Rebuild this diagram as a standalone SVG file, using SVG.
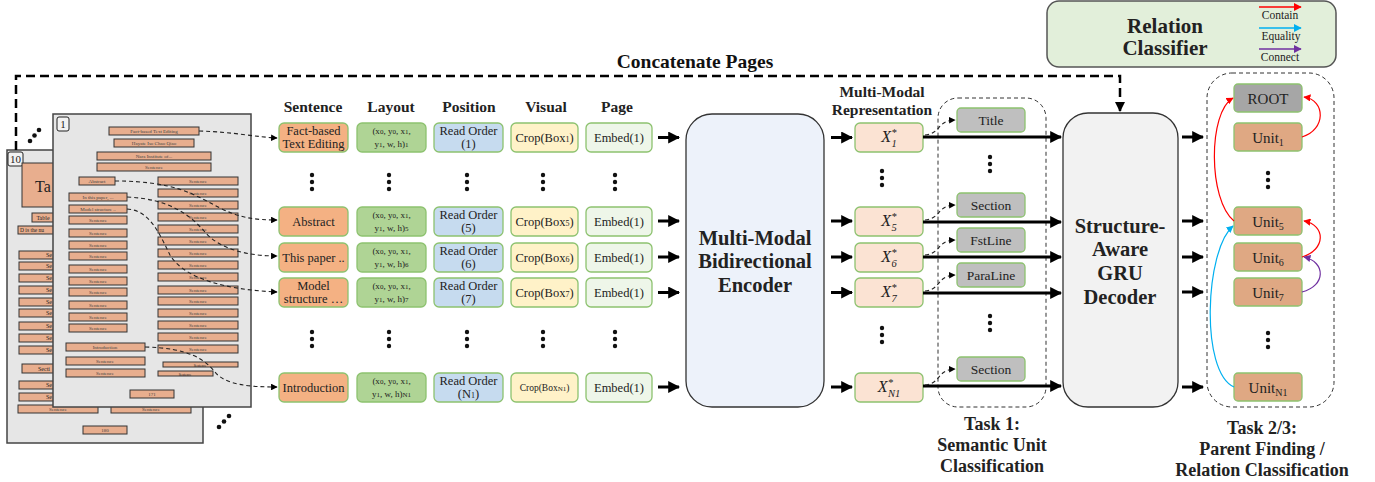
<svg xmlns="http://www.w3.org/2000/svg" width="1375" height="482" viewBox="0 0 1375 482" font-family="'Liberation Serif', serif">
<style>
text{font-family:"Liberation Serif","Times New Roman",serif;fill:#222}
.b{font-weight:bold;fill:#111}
.doc{fill:#e6e6e6;stroke:#444;stroke-width:1.5}
.db{fill:#e8ae8e;stroke:#333;stroke-width:1}
.dt{font-size:5px;text-anchor:middle;fill:#444}
.cell{stroke:#8dc26f;stroke-width:1.3}
.sen{fill:#f4b183}.lay{fill:#afd495}.pos{fill:#c6dbef}.vis{fill:#fff2c8}.pg{fill:#eef6e9}
.xr{fill:#fbe3d3}.cls{fill:#bfbfbf}.unit{fill:#dfa883}.root{fill:#a6a6a6}
.ct{font-size:12.5px;text-anchor:middle}
.cl{font-size:13.5px;text-anchor:middle}
.lt{font-size:9px;text-anchor:middle}
.thick{stroke:#000;stroke-width:3;fill:none;marker-end:url(#ah)}
.dsh{stroke:#222;stroke-width:1.1;fill:none;stroke-dasharray:4 3;marker-end:url(#sa)}
.dot{fill:#111}
</style>
<defs>
<marker id="ah" viewBox="0 0 10 10" refX="9" refY="5" markerWidth="4" markerHeight="4" orient="auto" markerUnits="strokeWidth"><path d="M0,0L10,5L0,10z" fill="#000"/></marker>
<marker id="sa" viewBox="0 0 10 10" refX="9" refY="5" markerWidth="6" markerHeight="6" orient="auto" markerUnits="strokeWidth"><path d="M0,0L10,5L0,10z" fill="#000"/></marker>
<marker id="ba" viewBox="0 0 10 10" refX="9" refY="5" markerWidth="4" markerHeight="4" orient="auto" markerUnits="strokeWidth"><path d="M0,0L10,5L0,10z" fill="#000"/></marker>
<marker id="mr" viewBox="0 0 10 10" refX="9" refY="5" markerWidth="6" markerHeight="6" orient="auto" markerUnits="strokeWidth"><path d="M0,0L10,5L0,10z" fill="#ff0000"/></marker>
<marker id="mb" viewBox="0 0 10 10" refX="9" refY="5" markerWidth="6" markerHeight="6" orient="auto" markerUnits="strokeWidth"><path d="M0,0L10,5L0,10z" fill="#00b0f0"/></marker>
<marker id="mp" viewBox="0 0 10 10" refX="9" refY="5" markerWidth="6" markerHeight="6" orient="auto" markerUnits="strokeWidth"><path d="M0,0L10,5L0,10z" fill="#7030a0"/></marker>
</defs>

<!-- Pages -->
<g id="page10">
<rect class="doc" x="7" y="150" width="196" height="293"/>
<rect x="8" y="152" width="15" height="14" rx="2" fill="#f2f2f2" stroke="#222"/>
<text x="15.5" y="163" font-size="11" text-anchor="middle">10</text>
<rect class="db" x="22" y="163" width="60" height="44"/>
<text x="43" y="192" font-size="16" text-anchor="middle">Ta</text>
<rect class="db" x="32" y="213" width="50" height="9"/>
<text x="43" y="220" font-size="6" text-anchor="middle" fill="#444">Table</text>
<rect class="db" x="18" y="226" width="60" height="8"/>
<text x="20" y="232" font-size="5.5" fill="#444">D is the nu</text>
<g>
<rect class="db" x="19" y="251" width="60" height="8"/><rect class="db" x="19" y="262" width="60" height="8"/>
<rect class="db" x="19" y="274" width="60" height="8"/><rect class="db" x="19" y="286" width="60" height="8"/>
<rect class="db" x="19" y="298" width="60" height="8"/><rect class="db" x="19" y="309" width="60" height="8"/>
<rect class="db" x="19" y="322" width="60" height="8"/><rect class="db" x="19" y="334" width="60" height="8"/>
<rect class="db" x="19" y="346" width="60" height="8"/>
<rect class="db" x="22" y="364" width="60" height="9"/>
<rect class="db" x="19" y="381" width="60" height="8"/><rect class="db" x="19" y="393" width="60" height="8"/>
</g>
<g font-size="6" fill="#444">
<text x="46" y="257">Se</text><text x="46" y="268">Se</text><text x="46" y="280">Se</text><text x="46" y="292">Se</text>
<text x="46" y="304">Se</text><text x="46" y="315">Se</text><text x="46" y="328">Se</text><text x="46" y="340">Se</text>
<text x="46" y="352">Se</text><text x="38" y="371">Secti</text><text x="46" y="387">Se</text><text x="46" y="399">Se</text>
</g>
<rect class="db" x="18" y="405" width="80" height="8"/><text class="dt" x="58" y="411">Sentence</text>
<rect class="db" x="111" y="405" width="80" height="8"/><text class="dt" x="151" y="411">Sentence</text>
<rect class="db" x="83" y="426" width="44" height="8"/><text class="dt" x="105" y="432">180</text>
</g>

<g id="page1">
<rect class="doc" x="53" y="114" width="198" height="293"/>
<rect x="57" y="117" width="12" height="14" rx="2" fill="#f2f2f2" stroke="#222"/>
<text x="63" y="128" font-size="11" text-anchor="middle">1</text>
<rect class="db" x="109" y="127" width="90" height="8"/><text class="dt" x="154" y="133">Fact-based Text Editing</text>
<rect class="db" x="114" y="139" width="80" height="8"/><text class="dt" x="154" y="145">Hayate Iso Chao Qiao</text>
<rect class="db" x="97" y="152" width="114" height="8"/><text class="dt" x="154" y="158">Nara Institute of...</text>
<rect class="db" x="97" y="163" width="114" height="8"/><text class="dt" x="154" y="169">Sentence</text>
<rect class="db" x="79" y="177" width="36" height="8"/><text class="dt" x="97" y="183">Abstract</text>
<rect class="db" x="69" y="193" width="58" height="8"/><text class="dt" x="98" y="199">In this paper, ...</text>
<rect class="db" x="69" y="205" width="58" height="8"/><text class="dt" x="98" y="211">Model structure ..</text>
<g>
<rect class="db" x="69" y="216" width="58" height="8"/><text class="dt" x="98" y="222">Sentence</text>
<rect class="db" x="69" y="229" width="58" height="8"/><text class="dt" x="98" y="235">Sentence</text>
<rect class="db" x="69" y="241" width="58" height="8"/><text class="dt" x="98" y="247">Sentence</text>
<rect class="db" x="69" y="252" width="58" height="8"/><text class="dt" x="98" y="258">Sentence</text>
<rect class="db" x="69" y="265" width="58" height="8"/><text class="dt" x="98" y="271">Sentence</text>
<rect class="db" x="69" y="277" width="58" height="8"/><text class="dt" x="98" y="283">Sentence</text>
<rect class="db" x="69" y="288" width="58" height="8"/><text class="dt" x="98" y="294">Sentence</text>
<rect class="db" x="69" y="301" width="58" height="8"/><text class="dt" x="98" y="307">Sentence</text>
<rect class="db" x="69" y="313" width="58" height="8"/><text class="dt" x="98" y="319">Sentence</text>
<rect class="db" x="69" y="324" width="58" height="8"/><text class="dt" x="98" y="330">Sentence</text>
</g>
<rect class="db" x="66" y="343" width="79" height="8"/><text class="dt" x="105" y="349">Introduction</text>
<rect class="db" x="66" y="357" width="79" height="8"/><text class="dt" x="105" y="363">Sentence</text>
<rect class="db" x="66" y="369" width="79" height="8"/><text class="dt" x="105" y="375">Sentence</text>
<rect class="db" x="130" y="390" width="44" height="8"/><text class="dt" x="152" y="396">171</text>
<g>
<rect class="db" x="158" y="177" width="80" height="8"/><text class="dt" x="198" y="183">Sentence</text>
<rect class="db" x="158" y="189" width="80" height="8"/><text class="dt" x="198" y="195">Sentence</text>
<rect class="db" x="158" y="201" width="80" height="8"/><text class="dt" x="198" y="207">Sentence</text>
<rect class="db" x="158" y="213" width="80" height="8"/><text class="dt" x="198" y="219">Sentence</text>
<rect class="db" x="158" y="225" width="80" height="8"/><text class="dt" x="198" y="231">Sentence</text>
<rect class="db" x="158" y="237" width="80" height="8"/><text class="dt" x="198" y="243">Sentence</text>
<rect class="db" x="158" y="249" width="80" height="8"/><text class="dt" x="198" y="255">Sentence</text>
<rect class="db" x="158" y="261" width="80" height="8"/><text class="dt" x="198" y="267">Sentence</text>
<rect class="db" x="158" y="273" width="80" height="8"/><text class="dt" x="198" y="279">Sentence</text>
<rect class="db" x="158" y="286" width="80" height="8"/><text class="dt" x="198" y="292">Sentence</text>
<rect class="db" x="158" y="297" width="80" height="8"/><text class="dt" x="198" y="303">Sentence</text>
<rect class="db" x="158" y="309" width="80" height="8"/><text class="dt" x="198" y="315">Sentence</text>
<rect class="db" x="158" y="321" width="80" height="8"/><text class="dt" x="198" y="327">Sentence</text>
<rect class="db" x="158" y="333" width="80" height="8"/><text class="dt" x="198" y="339">Sentence</text>
<rect class="db" x="158" y="345" width="80" height="8"/><text class="dt" x="198" y="351">Sentence</text>
<rect class="db" x="163" y="362" width="75" height="5"/><text x="200" y="366.5" font-size="3.5" text-anchor="middle" fill="#444">Sentence</text>
<rect class="db" x="158" y="371" width="55" height="5"/><text x="185" y="375.5" font-size="3.5" text-anchor="middle" fill="#444">Sentence</text>
</g>
</g>

<g id="page-dots">
<circle class="dot" cx="30" cy="141" r="2.3"/><circle class="dot" cx="34.5" cy="135.5" r="2.3"/><circle class="dot" cx="39" cy="130" r="2.3"/>
<circle class="dot" cx="219" cy="427" r="2.3"/><circle class="dot" cx="224" cy="421.5" r="2.3"/><circle class="dot" cx="229" cy="416" r="2.3"/>
</g>

<!-- Title labels -->
<text class="b" x="695" y="68" font-size="19.5" text-anchor="middle">Concatenate Pages</text>
<g class="b" font-size="15.5" text-anchor="middle">
<text x="313" y="112">Sentence</text><text x="391" y="112">Layout</text><text x="469" y="112">Position</text>
<text x="546" y="112">Visual</text><text x="617" y="112">Page</text>
</g>
<g class="b" font-size="15.5" text-anchor="middle">
<text x="882" y="97">Multi-Modal</text><text x="882" y="115">Representation</text>
</g>

<!-- Input rows -->
<g id="row1">
<rect class="cell sen" x="279" y="123" width="69" height="29" rx="5"/>
<text class="ct" x="313.5" y="135">Fact-based</text><text class="ct" x="313.5" y="148">Text Editing</text>
<rect class="cell lay" x="357" y="123" width="69" height="29" rx="5"/>
<text class="lt" x="391.5" y="134">(x<tspan font-size="7">0</tspan>, y<tspan font-size="7">0</tspan>, x<tspan font-size="7">1</tspan>,</text>
<text class="lt" x="391.5" y="147">y<tspan font-size="7">1</tspan>, w, h)<tspan font-size="7">1</tspan></text>
<rect class="cell pos" x="434" y="123" width="69" height="29" rx="5"/>
<text class="ct" x="468.5" y="135">Read Order</text><text class="ct" x="468.5" y="148">(1)</text>
<rect class="cell vis" x="511" y="123" width="67" height="29" rx="5"/>
<text class="ct" x="544.5" y="142">Crop(Box<tspan font-size="8">1</tspan>)</text>
<rect class="cell pg" x="586" y="123" width="66" height="29" rx="5"/>
<text class="ct" x="619" y="142">Embed(1)</text>
</g>
<g id="row5">
<rect class="cell sen" x="279" y="207" width="69" height="29" rx="5"/>
<text class="ct" x="313.5" y="226">Abstract</text>
<rect class="cell lay" x="357" y="207" width="69" height="29" rx="5"/>
<text class="lt" x="391.5" y="218">(x<tspan font-size="7">0</tspan>, y<tspan font-size="7">0</tspan>, x<tspan font-size="7">1</tspan>,</text>
<text class="lt" x="391.5" y="231">y<tspan font-size="7">1</tspan>, w, h)<tspan font-size="7">5</tspan></text>
<rect class="cell pos" x="434" y="207" width="69" height="29" rx="5"/>
<text class="ct" x="468.5" y="219">Read Order</text><text class="ct" x="468.5" y="232">(5)</text>
<rect class="cell vis" x="511" y="207" width="67" height="29" rx="5"/>
<text class="ct" x="544.5" y="226">Crop(Box<tspan font-size="8">5</tspan>)</text>
<rect class="cell pg" x="586" y="207" width="66" height="29" rx="5"/>
<text class="ct" x="619" y="226">Embed(1)</text>
</g>
<g id="row6">
<rect class="cell sen" x="279" y="243" width="69" height="29" rx="5"/>
<text class="ct" x="313.5" y="262">This paper ..</text>
<rect class="cell lay" x="357" y="243" width="69" height="29" rx="5"/>
<text class="lt" x="391.5" y="254">(x<tspan font-size="7">0</tspan>, y<tspan font-size="7">0</tspan>, x<tspan font-size="7">1</tspan>,</text>
<text class="lt" x="391.5" y="267">y<tspan font-size="7">1</tspan>, w, h)<tspan font-size="7">6</tspan></text>
<rect class="cell pos" x="434" y="243" width="69" height="29" rx="5"/>
<text class="ct" x="468.5" y="255">Read Order</text><text class="ct" x="468.5" y="268">(6)</text>
<rect class="cell vis" x="511" y="243" width="67" height="29" rx="5"/>
<text class="ct" x="544.5" y="262">Crop(Box<tspan font-size="8">6</tspan>)</text>
<rect class="cell pg" x="586" y="243" width="66" height="29" rx="5"/>
<text class="ct" x="619" y="262">Embed(1)</text>
</g>
<g id="row7">
<rect class="cell sen" x="279" y="278" width="69" height="29" rx="5"/>
<text class="ct" x="313.5" y="290">Model</text><text class="ct" x="313.5" y="303">structure …</text>
<rect class="cell lay" x="357" y="278" width="69" height="29" rx="5"/>
<text class="lt" x="391.5" y="289">(x<tspan font-size="7">0</tspan>, y<tspan font-size="7">0</tspan>, x<tspan font-size="7">1</tspan>,</text>
<text class="lt" x="391.5" y="302">y<tspan font-size="7">1</tspan>, w, h)<tspan font-size="7">7</tspan></text>
<rect class="cell pos" x="434" y="278" width="69" height="29" rx="5"/>
<text class="ct" x="468.5" y="290">Read Order</text><text class="ct" x="468.5" y="303">(7)</text>
<rect class="cell vis" x="511" y="278" width="67" height="29" rx="5"/>
<text class="ct" x="544.5" y="297">Crop(Box<tspan font-size="8">7</tspan>)</text>
<rect class="cell pg" x="586" y="278" width="66" height="29" rx="5"/>
<text class="ct" x="619" y="297">Embed(1)</text>
</g>
<g id="rowN1">
<rect class="cell sen" x="279" y="373" width="69" height="29" rx="5"/>
<text class="ct" x="313.5" y="392">Introduction</text>
<rect class="cell lay" x="357" y="373" width="69" height="29" rx="5"/>
<text class="lt" x="391.5" y="384">(x<tspan font-size="7">0</tspan>, y<tspan font-size="7">0</tspan>, x<tspan font-size="7">1</tspan>,</text>
<text class="lt" x="391.5" y="397">y<tspan font-size="7">1</tspan>, w, h)<tspan font-size="7">N1</tspan></text>
<rect class="cell pos" x="434" y="373" width="69" height="29" rx="5"/>
<text class="ct" x="468.5" y="385">Read Order</text><text class="ct" x="468.5" y="398">(N<tspan font-size="8">1</tspan>)</text>
<rect class="cell vis" x="511" y="373" width="67" height="29" rx="5"/>
<text x="544.5" y="391" font-size="9.5" text-anchor="middle">Crop(Box<tspan font-size="7">N1</tspan>)</text>
<rect class="cell pg" x="586" y="373" width="66" height="29" rx="5"/>
<text class="ct" x="619" y="392">Embed(1)</text>
</g>

<g id="col-dots">
<circle class="dot" cx="312" cy="175" r="2.2"/><circle class="dot" cx="312" cy="182" r="2.2"/><circle class="dot" cx="312" cy="189" r="2.2"/>
<circle class="dot" cx="389" cy="175" r="2.2"/><circle class="dot" cx="389" cy="182" r="2.2"/><circle class="dot" cx="389" cy="189" r="2.2"/>
<circle class="dot" cx="467" cy="175" r="2.2"/><circle class="dot" cx="467" cy="182" r="2.2"/><circle class="dot" cx="467" cy="189" r="2.2"/>
<circle class="dot" cx="543" cy="175" r="2.2"/><circle class="dot" cx="543" cy="182" r="2.2"/><circle class="dot" cx="543" cy="189" r="2.2"/>
<circle class="dot" cx="615" cy="175" r="2.2"/><circle class="dot" cx="615" cy="182" r="2.2"/><circle class="dot" cx="615" cy="189" r="2.2"/>
<circle class="dot" cx="312" cy="332" r="2.2"/><circle class="dot" cx="312" cy="339" r="2.2"/><circle class="dot" cx="312" cy="346" r="2.2"/>
<circle class="dot" cx="389" cy="332" r="2.2"/><circle class="dot" cx="389" cy="339" r="2.2"/><circle class="dot" cx="389" cy="346" r="2.2"/>
<circle class="dot" cx="467" cy="332" r="2.2"/><circle class="dot" cx="467" cy="339" r="2.2"/><circle class="dot" cx="467" cy="346" r="2.2"/>
<circle class="dot" cx="543" cy="332" r="2.2"/><circle class="dot" cx="543" cy="339" r="2.2"/><circle class="dot" cx="543" cy="346" r="2.2"/>
<circle class="dot" cx="615" cy="332" r="2.2"/><circle class="dot" cx="615" cy="339" r="2.2"/><circle class="dot" cx="615" cy="346" r="2.2"/>
<circle class="dot" cx="882" cy="171" r="2.2"/><circle class="dot" cx="882" cy="178" r="2.2"/><circle class="dot" cx="882" cy="185" r="2.2"/>
<circle class="dot" cx="882" cy="328" r="2.2"/><circle class="dot" cx="882" cy="335" r="2.2"/><circle class="dot" cx="882" cy="342" r="2.2"/>
<circle class="dot" cx="990" cy="157" r="2.2"/><circle class="dot" cx="990" cy="164" r="2.2"/><circle class="dot" cx="990" cy="171" r="2.2"/>
<circle class="dot" cx="990" cy="316" r="2.2"/><circle class="dot" cx="990" cy="323" r="2.2"/><circle class="dot" cx="990" cy="330" r="2.2"/>
<circle class="dot" cx="1268" cy="173" r="2.2"/><circle class="dot" cx="1268" cy="180" r="2.2"/><circle class="dot" cx="1268" cy="187" r="2.2"/>
<circle class="dot" cx="1268" cy="333" r="2.2"/><circle class="dot" cx="1268" cy="340" r="2.2"/><circle class="dot" cx="1268" cy="347" r="2.2"/>
</g>

<!-- Encoder -->
<g id="encoder">
<rect x="686" y="114" width="138" height="293" rx="26" fill="#edf2fa" stroke="#333" stroke-width="1.3"/>
<g class="b" font-size="20.5" text-anchor="middle">
<text x="755" y="245">Multi-Modal</text><text x="755" y="268">Bidirectional</text><text x="755" y="292">Encoder</text>
</g>
</g>

<!-- Representations -->
<g id="reps" font-style="italic">
<rect class="cell xr" x="855" y="123" width="68" height="29" rx="5"/>
<text x="889" y="142" font-size="16" text-anchor="middle">X<tspan font-size="10.5" dy="-6">*</tspan><tspan font-size="10.5" dx="-5" dy="11">1</tspan></text>
<rect class="cell xr" x="855" y="207" width="68" height="29" rx="5"/>
<text x="889" y="226" font-size="16" text-anchor="middle">X<tspan font-size="10.5" dy="-6">*</tspan><tspan font-size="10.5" dx="-5" dy="11">5</tspan></text>
<rect class="cell xr" x="855" y="243" width="68" height="29" rx="5"/>
<text x="889" y="262" font-size="16" text-anchor="middle">X<tspan font-size="10.5" dy="-6">*</tspan><tspan font-size="10.5" dx="-5" dy="11">6</tspan></text>
<rect class="cell xr" x="855" y="278" width="68" height="29" rx="5"/>
<text x="889" y="297" font-size="16" text-anchor="middle">X<tspan font-size="10.5" dy="-6">*</tspan><tspan font-size="10.5" dx="-5" dy="11">7</tspan></text>
<rect class="cell xr" x="855" y="373" width="68" height="29" rx="5"/>
<text x="889" y="392" font-size="16" text-anchor="middle">X<tspan font-size="10.5" dy="-6">*</tspan><tspan font-size="10.5" dx="-5" dy="11">N1</tspan></text>
</g>

<!-- Task 1 -->
<g id="task1">
<rect x="938" y="98" width="108" height="309" rx="20" fill="none" stroke="#333" stroke-width="1" stroke-dasharray="4 3"/>
<rect class="cell cls" x="957" y="108" width="68" height="24" rx="4"/><text class="cl" x="991" y="125">Title</text>
<rect class="cell cls" x="957" y="193" width="68" height="24" rx="4"/><text class="cl" x="991" y="210">Section</text>
<rect class="cell cls" x="957" y="228" width="68" height="24" rx="4"/><text class="cl" x="991" y="245">FstLine</text>
<rect class="cell cls" x="957" y="263" width="68" height="24" rx="4"/><text class="cl" x="991" y="280">ParaLine</text>
<rect class="cell cls" x="957" y="357" width="68" height="24" rx="4"/><text class="cl" x="991" y="374">Section</text>
<g class="b" font-size="18" text-anchor="middle">
<text x="992" y="430">Task 1:</text><text x="992" y="451">Semantic Unit</text><text x="992" y="472">Classification</text>
</g>
</g>

<!-- Decoder -->
<g id="decoder">
<rect x="1063" y="113" width="115" height="294" rx="25" fill="#f2f2f2" stroke="#333" stroke-width="1.3"/>
<g class="b" font-size="20.5" text-anchor="middle">
<text x="1120" y="233">Structure-</text><text x="1120" y="256">Aware</text><text x="1120" y="280">GRU</text><text x="1120" y="304">Decoder</text>
</g>
</g>

<!-- Relation classifier -->
<g id="relation-classifier">
<rect x="1047" y="1" width="289" height="66" rx="12" fill="#e2efda" stroke="#555" stroke-width="1.5"/>
<g class="b" font-size="21" text-anchor="middle"><text x="1165" y="33">Relation</text><text x="1165" y="55">Classifier</text></g>
<line x1="1259" y1="7" x2="1301" y2="7" stroke="#ff0000" stroke-width="1.3" marker-end="url(#mr)"/>
<line x1="1259" y1="28" x2="1301" y2="28" stroke="#00b0f0" stroke-width="1.3" marker-end="url(#mb)"/>
<line x1="1259" y1="49" x2="1301" y2="49" stroke="#7030a0" stroke-width="1.3" marker-end="url(#mp)"/>
<g font-size="11.5" text-anchor="middle"><text x="1280" y="19">Contain</text><text x="1281" y="40">Equality</text><text x="1280" y="61">Connect</text></g>
</g>

<!-- Task 2/3 -->
<g id="task23">
<rect x="1207" y="73" width="127" height="334" rx="25" fill="none" stroke="#333" stroke-width="1" stroke-dasharray="4 3"/>
<rect class="cell root" x="1234" y="84" width="68" height="28" rx="4"/><text x="1268" y="104" font-size="15" text-anchor="middle">ROOT</text>
<rect class="cell unit" x="1234" y="123" width="68" height="28" rx="4"/><text x="1268" y="143" font-size="15" text-anchor="middle">Unit<tspan font-size="10" dy="3">1</tspan></text>
<rect class="cell unit" x="1234" y="207" width="68" height="28" rx="4"/><text x="1268" y="227" font-size="15" text-anchor="middle">Unit<tspan font-size="10" dy="3">5</tspan></text>
<rect class="cell unit" x="1234" y="243" width="68" height="28" rx="4"/><text x="1268" y="263" font-size="15" text-anchor="middle">Unit<tspan font-size="10" dy="3">6</tspan></text>
<rect class="cell unit" x="1234" y="278" width="68" height="28" rx="4"/><text x="1268" y="298" font-size="15" text-anchor="middle">Unit<tspan font-size="10" dy="3">7</tspan></text>
<rect class="cell unit" x="1234" y="373" width="68" height="28" rx="4"/><text x="1268" y="393" font-size="15" text-anchor="middle">Unit<tspan font-size="10" dy="3">N1</tspan></text>
<g class="b" font-size="18" text-anchor="middle">
<text x="1262" y="434">Task 2/3:</text><text x="1262" y="455">Parent Finding /</text><text x="1262" y="476">Relation Classification</text>
</g>
</g>

<!-- Connectors -->
<g id="connectors">
<path d="M16,150 V76 H1120 V111" fill="none" stroke="#000" stroke-width="2.5" stroke-dasharray="9 5" marker-end="url(#ba)"/>
<path class="dsh" d="M199,131 C235,132 255,137 277,138"/>
<path class="dsh" d="M115,181 C175,181 195,195 220,208 C240,218 255,220 277,220"/>
<path class="dsh" d="M127,197 C170,199 190,215 205,232 C220,250 250,256 277,256"/>
<path class="dsh" d="M127,209 C150,210 160,235 170,255 C185,280 230,290 277,292"/>
<path class="dsh" d="M145,347 C190,348 205,360 215,372 C225,385 250,387 277,387"/>

<path class="thick" d="M658,137.5H679"/><path class="thick" d="M658,221H679"/><path class="thick" d="M658,257H679"/>
<path class="thick" d="M658,292.5H679"/><path class="thick" d="M658,387H679"/>
<path class="thick" d="M831,137.5H852"/><path class="thick" d="M831,221H852"/><path class="thick" d="M831,257H852"/>
<path class="thick" d="M831,292.5H852"/><path class="thick" d="M831,387H852"/>
<path class="thick" d="M923,137H1061"/><path class="thick" d="M923,222H1061"/><path class="thick" d="M923,257H1061"/>
<path class="thick" d="M923,293H1061"/><path class="thick" d="M923,386H1061"/>
<path class="thick" d="M1182,137H1203"/><path class="thick" d="M1182,221H1203"/><path class="thick" d="M1182,257H1203"/>
<path class="thick" d="M1182,292H1203"/><path class="thick" d="M1182,387H1203"/>

<path class="dsh" d="M925,135 C942,133 936,121 955,120"/>
<path class="dsh" d="M925,220 C942,218 936,206 955,205"/>
<path class="dsh" d="M925,255 C942,253 936,241 955,240"/>
<path class="dsh" d="M925,291 C942,289 936,276 955,275"/>
<path class="dsh" d="M925,385 C942,383 936,370 955,369"/>

<path d="M1302,137 C1326,130 1326,100 1304,97" fill="none" stroke="#ff0000" stroke-width="1.2" marker-end="url(#mr)"/>
<path d="M1234,221 C1208,200 1208,112 1233,98" fill="none" stroke="#ff0000" stroke-width="1.2" marker-end="url(#mr)"/>
<path d="M1302,257 C1326,250 1326,225 1304,221" fill="none" stroke="#ff0000" stroke-width="1.2" marker-end="url(#mr)"/>
<path d="M1302,292 C1326,286 1326,262 1304,257" fill="none" stroke="#7030a0" stroke-width="1.2" marker-end="url(#mp)"/>
<path d="M1234,387 C1200,372 1205,250 1233,226" fill="none" stroke="#00b0f0" stroke-width="1.2" marker-end="url(#mb)"/>
</g>
</svg>
